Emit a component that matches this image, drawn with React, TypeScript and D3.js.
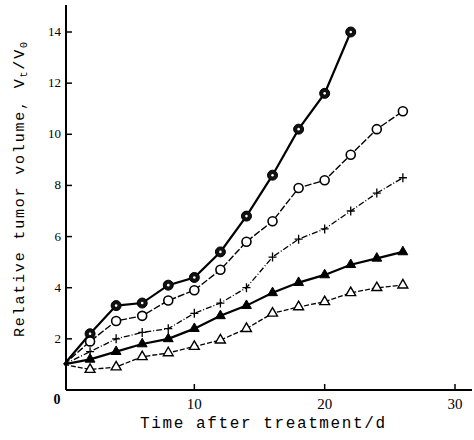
import React from 'react';
import * as d3 from 'd3';

// days of measurement
const days = [0, 2, 4, 6, 8, 10, 12, 14, 16, 18, 20, 22, 24, 26];

// relative tumor volume Vt/V0 for each group
const dottedCircle = [1.0, 2.2, 3.3, 3.4, 4.1, 4.4, 5.4, 6.8, 8.4, 10.2, 11.6, 14.0];
const openCircle = [1.0, 1.9, 2.7, 2.9, 3.5, 3.9, 4.7, 5.8, 6.6, 7.9, 8.2, 9.2, 10.2, 10.9];
const cross = [1.0, 1.5, 2.0, 2.25, 2.4, 3.0, 3.4, 4.0, 5.2, 5.9, 6.3, 7.0, 7.7, 8.3];
const filledTriangle = [1.0, 1.2, 1.5, 1.8, 2.0, 2.4, 2.9, 3.3, 3.8, 4.2, 4.5, 4.9, 5.15, 5.4];
const openTriangle = [1.0, 0.8, 0.9, 1.3, 1.45, 1.7, 1.95, 2.4, 3.0, 3.25, 3.45, 3.8, 4.0, 4.1];

const xTicks = [10, 20, 30];
const yTicks = [2, 4, 6, 8, 10, 12, 14];

const width = 474;
const height = 440;

const App = () => {
  const x = d3.scaleLinear().domain([0, 30]).range([64, 455]);
  const y = d3.scaleLinear().domain([0, 14]).range([390, 32]);

  const toPts = (vals: number[]) => vals.map((v, i) => ({ d: days[i], v }));
  const line = d3
    .line<{ d: number; v: number }>()
    .x((p) => x(p.d))
    .y((p) => y(p.v));

  const series = [
    { key: 'dc', pts: toPts(dottedCircle), sw: 2.2, dash: null, marker: 'dc' },
    { key: 'oc', pts: toPts(openCircle), sw: 1.4, dash: '7,2', marker: 'oc' },
    { key: 'cr', pts: toPts(cross), sw: 1.3, dash: '6,2,1,2', marker: 'cr' },
    { key: 'ft', pts: toPts(filledTriangle), sw: 2.2, dash: null, marker: 'ft' },
    { key: 'ot', pts: toPts(openTriangle), sw: 1.3, dash: '5,2', marker: 'ot' },
  ];

  const tri = d3.symbol().type(d3.symbolTriangle).size(42)();

  const drawMarker = (m: string, cx: number, cy: number, k: string) => {
    if (m === 'dc')
      return (
        <g key={k}>
          <circle cx={cx} cy={cy} r={5} fill="#111" stroke="#000" strokeWidth={1} />
          <circle cx={cx} cy={cy} r={1.3} fill="#fff" />
        </g>
      );
    if (m === 'oc')
      return <circle key={k} cx={cx} cy={cy} r={4.5} fill="#fff" stroke="#000" strokeWidth={1.6} />;
    if (m === 'cr')
      return (
        <path key={k} d={`M${cx - 4},${cy}H${cx + 4}M${cx},${cy - 4.5}V${cy + 4.5}`} stroke="#000" strokeWidth={1.3} />
      );
    if (m === 'ft')
      return <path key={k} d={tri!} transform={`translate(${cx},${cy})`} fill="#000" stroke="#000" strokeWidth={1} />;
    return <path key={k} d={tri!} transform={`translate(${cx},${cy})`} fill="#fff" stroke="#000" strokeWidth={1.4} />;
  };

  return (
    <svg
      width={width}
      height={height}
      style={{ position: 'absolute', left: 0, top: 0, background: '#fff' }}
    >
      {/* axes */}
      <line x1={x(0) + 2} x2={x(0) + 2} y1={y(0)} y2={5} stroke="#000" strokeWidth={2} />
      <line x1={x(0) + 2} x2={472} y1={y(0)} y2={y(0)} stroke="#000" strokeWidth={2} />
      {yTicks.map((t) => (
        <g key={'y' + t}>
          <line x1={x(0) + 2} x2={x(0) + 8} y1={y(t)} y2={y(t)} stroke="#000" strokeWidth={1.5} />
          <text
            x={x(0) - 3}
            y={y(t) + 4}
            textAnchor="end"
            fontFamily="Liberation Serif"
            fontSize={13}
          >
            {t}
          </text>
        </g>
      ))}
      <text x={57} y={y(0) + 14} textAnchor="middle" fontFamily="Liberation Serif" fontSize={14} fontWeight="bold">
        0
      </text>
      {xTicks.map((t) => (
        <g key={'x' + t}>
          <line x1={x(t)} x2={x(t)} y1={y(0)} y2={y(0) - 6} stroke="#000" strokeWidth={1.5} />
          <text x={x(t)} y={y(0) + 19} textAnchor="middle" fontFamily="Liberation Serif" fontSize={15}>
            {t}
          </text>
        </g>
      ))}

      {/* axis titles */}
      <text x={140} y={428} fontFamily="Liberation Mono" fontSize={16} textLength={245} lengthAdjust="spacing">
        Time after treatment/d
      </text>
      <text
        transform="translate(24,337) rotate(-90)"
        fontFamily="Liberation Mono"
        fontSize={15}
        textLength={295}
        lengthAdjust="spacing"
      >
        Relative tumor volume, V<tspan fontSize={10} dy={3}>t</tspan>
        <tspan dy={-3}>/V</tspan>
        <tspan fontSize={10} dy={3}>0</tspan>
      </text>

      {/* series */}
      {series.map((s) => (
        <g key={s.key}>
          <path
            d={line(s.pts) || ''}
            fill="none"
            stroke="#000"
            strokeWidth={s.sw}
            strokeDasharray={s.dash || undefined}
          />
          {s.pts.slice(1).map((p, i) => drawMarker(s.marker, x(p.d), y(p.v), s.key + i))}
        </g>
      ))}
    </svg>
  );
};

export default App;
